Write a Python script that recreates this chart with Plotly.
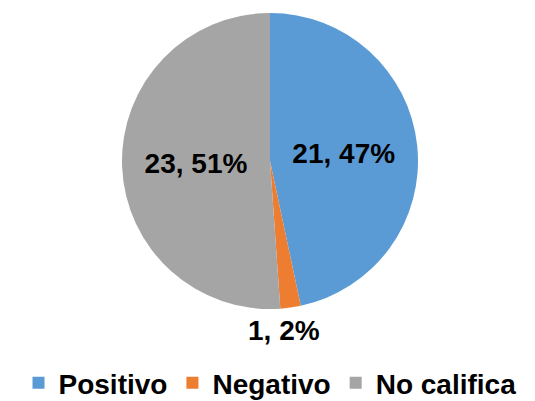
import plotly.graph_objects as go

labels = ["Positivo", "Negativo", "No califica"]
values = [21, 1, 23]
colors = ["#5B9BD5", "#ED7D31", "#A5A5A5"]
text_positions = ["inside", "none", "inside"]

FONT = "Liberation Sans, Arial, sans-serif"
total = sum(values)

fig = go.Figure(go.Pie(
    labels=labels,
    values=values,
    sort=False,
    direction="clockwise",
    rotation=0,
    domain=dict(x=[0, 1], y=[0, 1]),
    marker=dict(colors=colors, line=dict(width=0)),
    texttemplate="%{value}, %{percent:.0%}",
    textposition=text_positions,
    insidetextorientation="horizontal",
    textfont=dict(family=FONT, size=28, color="black", weight="bold"),
    insidetextfont=dict(family=FONT, size=28, color="black", weight="bold"),
    hoverinfo="label+value+percent",
))

# label of the small slice, placed below the pie like the reference
small = 1
fig.add_annotation(
    text=f"{values[small]}, {round(100 * values[small] / total)}%",
    x=0.526, y=-0.074, xref="paper", yref="paper",
    xanchor="center", yanchor="middle", showarrow=False,
    font=dict(family=FONT, size=28, color="black", weight="bold"),
)

fig.update_layout(
    width=535, height=401,
    margin=dict(l=5, r=0, t=13, b=92, autoexpand=False),
    paper_bgcolor="white",
    plot_bgcolor="white",
    showlegend=True,
    legend=dict(
        orientation="h",
        x=0.5, xanchor="center",
        y=-0.25, yanchor="middle",
        font=dict(family=FONT, size=28, color="black", weight="bold"),
        borderwidth=0,
    ),
)

fig.write_html(
    "out.html",
    config={"displayModeBar": False},
    post_script="document.body.style.margin='0px';",
)
